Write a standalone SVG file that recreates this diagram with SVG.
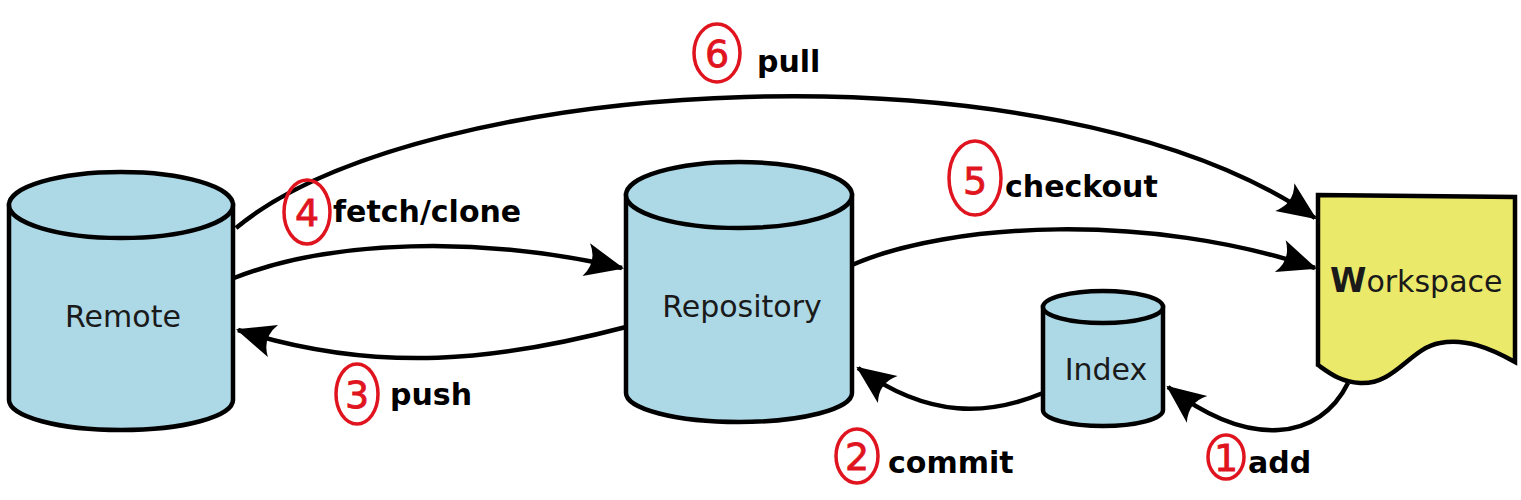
<svg xmlns="http://www.w3.org/2000/svg" width="1521" height="500" viewBox="0 0 1521 500">
<style>
.cyl{fill:#add8e6;stroke:#000;stroke-width:4.5}
.node-label{font-family:"DejaVu Sans",sans-serif;font-size:30px;fill:#1a1a1a;text-anchor:middle}
.edge{fill:none;stroke:#000;stroke-width:4.5}
.lbl{font-family:"DejaVu Sans",sans-serif;font-size:30px;font-weight:bold;fill:#000}
.mark{fill:none;stroke:#e0141e;stroke-width:3.5}
.num{font-family:"DejaVu Sans",sans-serif;font-size:38px;fill:#e0141e;text-anchor:middle;stroke:#e0141e;stroke-width:0.8}
</style>
<defs>
<marker id="arr" markerUnits="userSpaceOnUse" markerWidth="44" markerHeight="44" viewBox="-38 -18 42 36" refX="0" refY="0" orient="auto">
<path d="M2,0 L-35,-16 Q-24,0 -35,16 Z" fill="#000"/>
</marker>
</defs>
<rect width="1521" height="500" fill="#fff"/>
<g id="remote">
<path class="cyl" d="M9,205 V400 A112,30 0 0 0 233,400 V205 Z"/>
<ellipse class="cyl" cx="121" cy="205" rx="112" ry="33"/>
<text class="node-label" x="123" y="327">Remote</text>
</g>
<g id="repository">
<path class="cyl" d="M626,195 V393 A113,29 0 0 0 852,393 V195 Z"/>
<ellipse class="cyl" cx="739" cy="195" rx="113" ry="33"/>
<text class="node-label" x="742" y="317">Repository</text>
</g>
<g id="index">
<path class="cyl" d="M1043,307 V410 A60,16 0 0 0 1163,410 V307 Z"/>
<ellipse class="cyl" cx="1103" cy="307" rx="60" ry="16"/>
<text class="node-label" x="1106" y="380">Index</text>
</g>
<g id="workspace">
<path d="M1318,195 L1515,197 L1515,362 C1490,348 1465,338 1440,343 C1410,348 1395,385 1360,383 C1340,382 1328,372 1318,365 Z" fill="#ebe96a" stroke="#000" stroke-width="4.5"/>
<text x="1330" y="292" font-family="DejaVu Sans,sans-serif" font-size="30" fill="#1a1a1a"><tspan font-weight="bold" font-size="33">W</tspan>orkspace</text>
</g>
<g id="connectors">
<path class="edge" marker-end="url(#arr)" d="M236,228 C420,75 1050,35 1315,218"/>
<path class="edge" marker-end="url(#arr)" d="M234,278 C330,240 480,235 622,268"/>
<path class="edge" marker-end="url(#arr)" d="M626,327 C500,360 380,375 238,330"/>
<path class="edge" marker-end="url(#arr)" d="M852,265 C950,222 1150,212 1315,268"/>
<path class="edge" marker-end="url(#arr)" d="M1043,393 C990,415 930,420 858,368"/>
<path class="edge" marker-end="url(#arr)" d="M1348,383 C1320,440 1250,450 1168,387"/>
</g>
<g id="labels">
<text class="lbl" x="757" y="72">pull</text>
<text class="lbl" x="333" y="222">fetch/clone</text>
<text class="lbl" x="390" y="405">push</text>
<text class="lbl" x="888" y="473">commit</text>
<text class="lbl" x="1005" y="197">checkout</text>
<text class="lbl" x="1248" y="473">add</text>
</g>
<g id="annotations">
<ellipse class="mark" cx="717" cy="53" rx="23" ry="29"/>
<text class="num" x="717" y="67">6</text>
<ellipse class="mark" cx="307" cy="212" rx="23" ry="32"/>
<text class="num" x="307" y="226">4</text>
<ellipse class="mark" cx="357" cy="394" rx="21" ry="30"/>
<text class="num" x="357" y="408">3</text>
<ellipse class="mark" cx="857" cy="456" rx="21" ry="27"/>
<text class="num" x="857" y="470">2</text>
<ellipse class="mark" cx="975" cy="178" rx="26" ry="37"/>
<text class="num" x="975" y="194" font-size="44">5</text>
<ellipse class="mark" cx="1226" cy="457" rx="18" ry="22"/>
<text class="num" x="1226" y="471">1</text>
</g>
</svg>
